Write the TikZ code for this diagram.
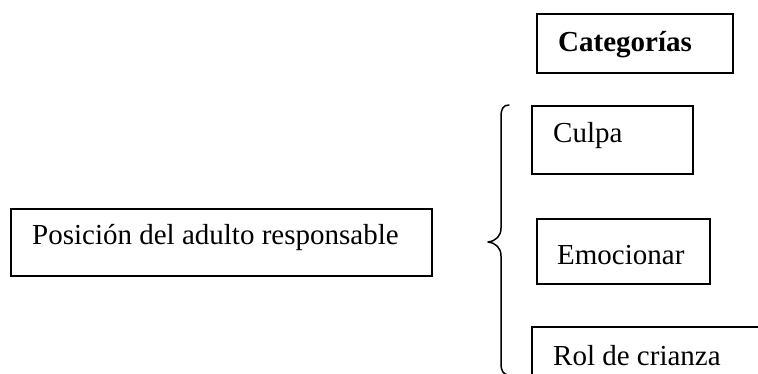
\documentclass[tikz,border=0pt]{standalone}
\usepackage{fontspec}
\setmainfont{Liberation Serif}
\usetikzlibrary{calc}
\begin{document}
\begin{tikzpicture}[x=1pt,y=-1pt,
  box/.style={draw=black,line width=1.6pt,rectangle,inner sep=0pt,anchor=north west},
  lbl/.style={inner sep=0pt,anchor=base west,font=\fontsize{29}{34}\selectfont},
  bracepath/.style={draw=black,line width=1.5pt,line cap=round,line join=round}]
  \useasboundingbox (0,0) rectangle (758,374);

  % heading
  \node[box,minimum width=196pt,minimum height=59pt] (cat) at (536,13) {};
  \node[lbl,font=\fontsize{29}{34}\selectfont\bfseries] (catlbl) at ($(cat.north west)+(22,39)$) {Categorías};

  % main concept
  \node[box,minimum width=421pt,minimum height=67pt] (pos) at (10,208) {};
  \node[lbl] (poslbl) at ($(pos.north west)+(22,37)$) {Posición del adulto responsable};

  % categories
  \node[box,minimum width=161pt,minimum height=68pt] (culpa) at (531,105) {};
  \node[lbl] (culpalbl) at ($(culpa.north west)+(22,38)$) {Culpa};

  \node[box,minimum width=173pt,minimum height=65pt] (emo) at (536,218) {};
  \node[lbl] (emolbl) at ($(emo.north west)+(21,47)$) {Emocionar};

  \node[box,minimum width=240pt,minimum height=70pt] (rol) at (531,326) {};
  \node[lbl] (rollbl) at ($(rol.north west)+(22,39)$) {Rol de crianza};

  % curly brace grouping the categories
  \coordinate (btop) at (509,105);
  \coordinate (btip) at (488,242);
  \coordinate (bbot) at (508,375);
  \draw[bracepath] (btop) .. controls (503,105) and (501,109) .. (501,117)
    -- (501,228) .. controls (501,236) and (496,241) .. (btip)
    .. controls (496,243) and (501,248) .. (501,256)
    -- (501,363) .. controls (501,371) and (503,374) .. (bbot);
\end{tikzpicture}
\end{document}
